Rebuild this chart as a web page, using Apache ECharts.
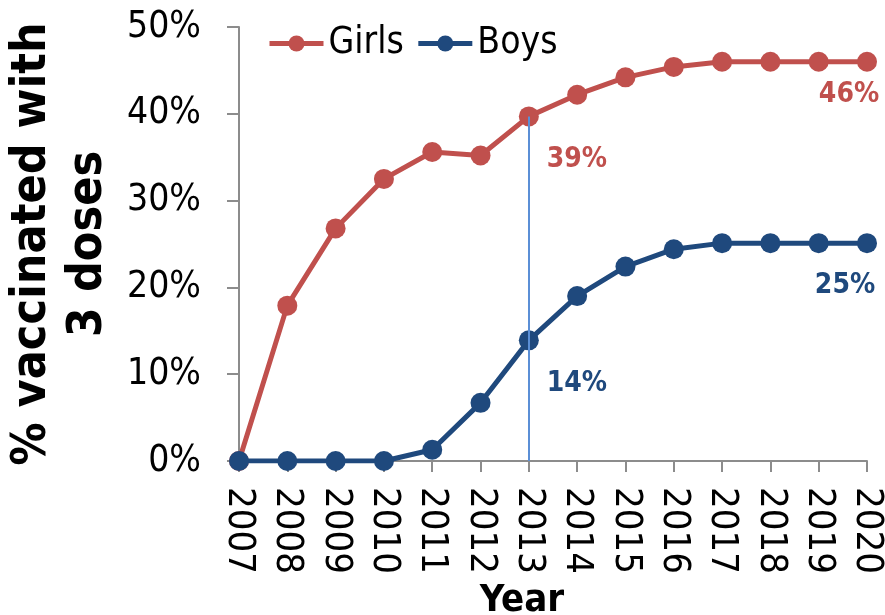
<!DOCTYPE html>
<html>
<head>
<meta charset="utf-8">
<script src="https://cdn.jsdelivr.net/npm/echarts@6/dist/echarts.min.js"></script>
<style>
  html, body { margin: 0; padding: 0; background: #fff; }
  #main { width: 885px; height: 615px; }
</style>
</head>
<body>
<div id="main"></div>
<script>
// 数据
var years = ['2007', '2008', '2009', '2010', '2011', '2012', '2013', '2014', '2015', '2016', '2017', '2018', '2019', '2020'];
var girls = [0, 17.9, 26.8, 32.5, 35.6, 35.2, 39.7, 42.2, 44.2, 45.4, 46, 46, 46, 46];
var boys = [0, 0, 0, 0, 1.3, 6.7, 13.9, 19.0, 22.4, 24.4, 25.1, 25.1, 25.1, 25.1];
var girlsLabels = { 6: '39%', 13: '46%' };
var boysLabels = { 6: '14%', 13: '25%' };
var yTicks = [0, 10, 20, 30, 40, 50];

var FONT = '"DejaVu Sans Condensed", "DejaVu Sans", sans-serif';
var RED = '#C0504D', BLUE = '#1F497D';

// 给指定点加数据标签
function withLabels(values, labels, color, offsets) {
    return values.map(function(v, i) {
        if (!labels[i]) return v;
        return {
            value: v,
            label: {
                show: true,
                formatter: labels[i],
                position: 'bottom',
                offset: offsets[i],
                color: color,
                fontFamily: FONT,
                fontWeight: 'bold',
                fontSize: 28
            }
        };
    });
}

var chart = echarts.init(document.getElementById('main'));

var option = {
    animation: false,
    textStyle: { fontFamily: FONT },
    grid: { left: 239, right: 18, top: 27, bottom: 154, outerBoundsMode: 'none', containLabel: false },
    legend: {
        left: 262,
        top: 20,
        itemWidth: 54,
        itemHeight: 20,
        itemGap: 12,
        lineStyle: { width: 5 },
        textStyle: { fontSize: 37, color: '#000', fontFamily: FONT },
        data: ['Girls', 'Boys']
    },
    xAxis: {
        type: 'category',
        data: years,
        boundaryGap: false,
        name: 'Year',
        nameLocation: 'middle',
        nameGap: 118,
        nameTextStyle: { fontSize: 38, fontWeight: 'bold', color: '#000', fontFamily: FONT, padding: [0, 62, 0, 0] },
        axisLine: { lineStyle: { color: '#8c8c8c', width: 2 } },
        axisTick: { alignWithLabel: true, length: 11, lineStyle: { color: '#8c8c8c', width: 2 } },
        axisLabel: { rotate: -90, interval: 0, margin: 26, fontSize: 38, color: '#000', fontFamily: FONT }
    },
    yAxis: {
        type: 'value',
        min: yTicks[0],
        max: yTicks[yTicks.length - 1],
        interval: 10,
        name: '% vaccinated with\n3 doses',
        nameLocation: 'middle',
        nameGap: 116,
        nameTextStyle: { fontSize: 48, fontWeight: 'bold', color: '#000', lineHeight: 56, fontFamily: FONT },
        axisLine: { show: true, lineStyle: { color: '#8c8c8c', width: 2 } },
        axisTick: { show: true, length: 12, lineStyle: { color: '#8c8c8c', width: 2 } },
        splitLine: { show: false },
        axisLabel: {
            margin: 38,
            fontSize: 37,
            color: '#000',
            fontFamily: FONT,
            formatter: '{value}%'
        }
    },
    series: [
        {
            name: 'Girls',
            type: 'line',
            data: withLabels(girls, girlsLabels, RED, { 6: [48, 14], 13: [-18, 4] }),
            symbol: 'circle',
            symbolSize: 20,
            lineStyle: { color: RED, width: 5 },
            itemStyle: { color: RED },
            markLine: {
                silent: true,
                symbol: ['none', 'none'],
                label: { show: false },
                lineStyle: { color: '#5B8FD6', width: 2, type: 'solid' },
                data: [[{ coord: ['2013', 0] }, { coord: ['2013', girls[6]] }]]
            },
            z: 3
        },
        {
            name: 'Boys',
            type: 'line',
            data: withLabels(boys, boysLabels, BLUE, { 6: [48, 14], 13: [-22, 14] }),
            symbol: 'circle',
            symbolSize: 20,
            lineStyle: { color: BLUE, width: 5 },
            itemStyle: { color: BLUE },
            z: 4
        }
    ]
};

chart.setOption(option);
</script>
</body>
</html>
